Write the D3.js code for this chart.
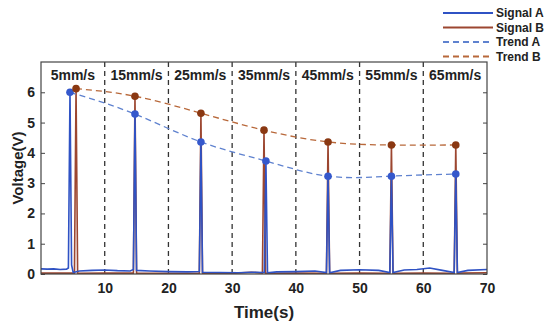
<!doctype html>
<meta charset="utf-8">
<style>
    body { margin: 0; background: #fff; }
    text { font-family: Arial, "Liberation Sans", sans-serif; font-weight: bold; fill: #222; }
</style>
<div id="chart"></div>
<script src="https://d3js.org/d3.v7.min.js"></script>
<script>

// speed segments and tick labels
let speeds = ["5mm/s", "15mm/s", "25mm/s", "35mm/s", "45mm/s", "55mm/s", "65mm/s"]
let dividers = [10, 20, 30, 40, 50, 60]
let xTicks = [10, 20, 30, 40, 50, 60, 70]
let yTicks = [0, 1, 2, 3, 4, 5, 6]

// peak values (trend points)
let peakTimesA = [4.55, 14.75, 25.1, 35.3, 45.05, 55.0, 65.1]
let peakA = [6.0, 5.28, 4.36, 3.73, 3.23, 3.23, 3.3]
let peakTimesB = [5.5, 14.75, 25.1, 35.0, 45.05, 55.0, 65.1]
let peakB = [6.12, 5.87, 5.31, 4.75, 4.36, 4.26, 4.26]

// raw traces [time, voltage]
let signalA = [[0,0.17],[1,0.16],[2,0.17],[3,0.15],[4,0.16],[4.3,0.2],[4.55,6.0],[4.8,0.3],[5.05,0.05],[6,0.1],[8,0.12],[10,0.13],[12,0.11],[14,0.1],
    [14.5,0.15],[14.75,5.28],[15,0.12],[17,0.1],[20,0.08],[23,0.07],[24.85,0.08],[25.1,4.36],[25.35,0.06],[28,0.05],[31,0.04],[33,0.06],[35.05,0.05],
    [35.3,3.73],[35.55,0.04],[37,0.07],[40,0.08],[43,0.1],[44.8,0.05],[45.05,3.23],[45.3,0.04],[47,0.12],[50,0.14],[53,0.12],[54.75,0.05],
    [55,3.23],[55.25,0.05],[57,0.13],[59,0.15],[61,0.2],[63,0.12],[64.85,0.05],[65.1,3.3],[65.35,0.05],[67,0.12],[70,0.15]]
let signalB = [[0,0.03],[5.25,0.03],[5.5,6.12],[5.75,0.02],[10,0.03],[14.5,0.03],[14.75,5.87],[15,0.03],[20,0.02],[24.85,0.02],[25.1,5.31],
    [25.35,0.02],[30,0.02],[33,0.06],[34.75,0.03],[35,4.75],[35.25,0.02],[40,0.03],[44.8,0.02],[45.05,4.36],[45.3,0.02],[50,0.03],
    [54.75,0.02],[55,4.26],[55.25,0.02],[60,0.03],[64.85,0.02],[65.1,4.26],[65.35,0.03],[70,0.04]]

let legendNames = ["Signal A", "Signal B", "Trend A", "Trend B"]
let colors = {sigA: "#2f52c4", sigB: "#9c4630", trendA: "#5f82cf", trendB: "#b8683a", dotA: "#3558cc", dotB: "#8a3812"}

let width = 550, height = 326
let margin = {top: 62, right: 63, bottom: 52, left: 41}
let plotWidth = width - margin.left - margin.right
let plotHeight = height - margin.top - margin.bottom

let svg = d3.select("#chart").append("svg").attr("width", width).attr("height", height)

let x = d3.scaleLinear().domain([0, 70]).range([0, plotWidth])
let y = d3.scaleLinear().domain([0, 7]).range([plotHeight, 0])

let g = svg.append("g").attr("transform", "translate(" + margin.left + "," + margin.top + ")")

g.append("clipPath").attr("id", "clip").append("rect").attr("width", plotWidth).attr("height", plotHeight)

// dashed dividers
g.selectAll(".divider").data(dividers).join("line")
    .attr("x1", d => x(d)).attr("x2", d => x(d))
    .attr("y1", 0).attr("y2", plotHeight)
    .attr("stroke", "#333").attr("stroke-width", 1.3).attr("stroke-dasharray", "5,4")

// speed labels
g.selectAll(".speed").data(speeds).join("text")
    .attr("x", (d, i) => x(5 + i * 10)).attr("y", 18)
    .attr("text-anchor", "middle").style("font-size", "14px").text(d => d)

let plot = g.append("g").attr("clip-path", "url(#clip)")
let line = d3.line().x(d => x(d[0])).y(d => y(d[1]))

plot.append("path").datum(signalB).attr("d", line).attr("fill", "none")
    .attr("stroke", colors.sigB).attr("stroke-width", 1.6)
plot.append("path").datum(signalA).attr("d", line).attr("fill", "none")
    .attr("stroke", colors.sigA).attr("stroke-width", 1.6)

let trend = d3.line().curve(d3.curveNatural).x(d => x(d[0])).y(d => y(d[1]))
let ptsA = peakTimesA.map((t, i) => [t, peakA[i]])
let ptsB = peakTimesB.map((t, i) => [t, peakB[i]])

plot.append("path").datum(ptsA).attr("d", trend).attr("fill", "none")
    .attr("stroke", colors.trendA).attr("stroke-width", 1.3).attr("stroke-dasharray", "6,4")
plot.append("path").datum(ptsB).attr("d", trend).attr("fill", "none")
    .attr("stroke", colors.trendB).attr("stroke-width", 1.3).attr("stroke-dasharray", "6,4")

g.selectAll(".dotA").data(ptsA).join("circle")
    .attr("cx", d => x(d[0])).attr("cy", d => y(d[1])).attr("r", 3.8).attr("fill", colors.dotA)
g.selectAll(".dotB").data(ptsB).join("circle")
    .attr("cx", d => x(d[0])).attr("cy", d => y(d[1])).attr("r", 3.8).attr("fill", colors.dotB)

// axes
let xAxis = g.append("g").attr("transform", "translate(0," + plotHeight + ")")
    .call(d3.axisBottom(x).tickValues(xTicks).tickSize(0).tickPadding(9))
let yAxis = g.append("g").call(d3.axisLeft(y).tickValues(yTicks).tickFormat(d3.format("d")).tickSize(-4).tickPadding(6))
let yAxisR = g.append("g").attr("transform", "translate(" + plotWidth + ",0)")
    .call(d3.axisRight(y).tickValues(yTicks).tickSize(-4).tickFormat(""))
for (let a of [xAxis, yAxis, yAxisR]) {
    a.select(".domain").remove()
    a.selectAll("line").attr("stroke", "#444")
    a.selectAll("text").style("font-size", "14px").attr("fill", "#222")
}

g.append("rect").attr("width", plotWidth).attr("height", plotHeight)
    .attr("fill", "none").attr("stroke", "#444").attr("stroke-width", 1.2)

// axis titles
svg.append("text").attr("x", margin.left + plotWidth / 2).attr("y", 318)
    .attr("text-anchor", "middle").style("font-size", "17px").text("Time(s)")
svg.append("text").attr("transform", "rotate(-90)")
    .attr("x", -(margin.top + plotHeight / 2)).attr("y", 23)
    .attr("text-anchor", "middle").style("font-size", "15px").text("Voltage(V)")

// legend
let legendStyles = [
    {color: colors.sigA, dash: null},
    {color: colors.sigB, dash: null},
    {color: colors.trendA, dash: "6,4"},
    {color: colors.trendB, dash: "6,4"}
]
let legend = svg.append("g").attr("transform", "translate(443,13)")
legend.selectAll("line").data(legendNames).join("line")
    .attr("x1", 0).attr("x2", 50).attr("y1", (d, i) => i * 14.5).attr("y2", (d, i) => i * 14.5)
    .attr("stroke", (d, i) => legendStyles[i].color).attr("stroke-width", 1.8)
    .attr("stroke-dasharray", (d, i) => legendStyles[i].dash)
legend.selectAll("text").data(legendNames).join("text")
    .attr("x", 53).attr("y", (d, i) => i * 14.5 + 4)
    .style("font-size", "12px").text(d => d)

</script>
